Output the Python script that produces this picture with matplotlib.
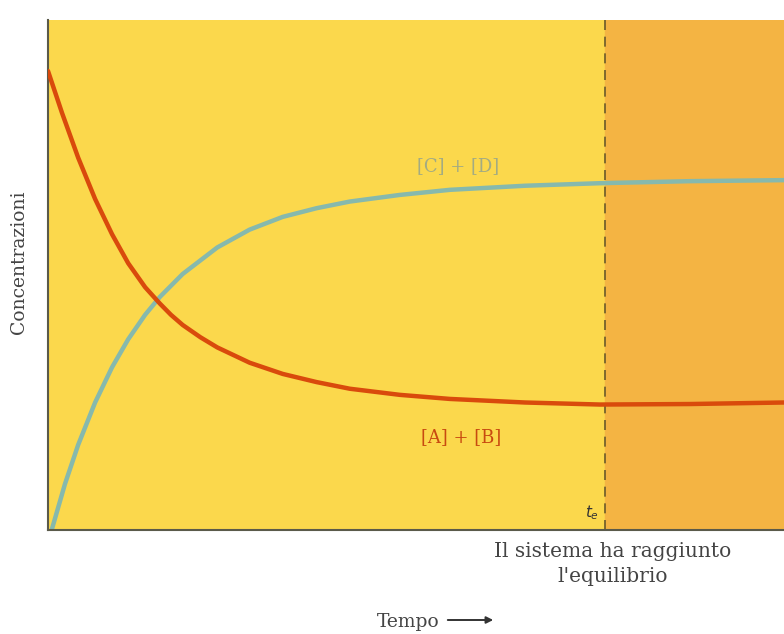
import matplotlib
matplotlib.use("Agg")
import matplotlib.pyplot as plt

# Data (time in 0..100, concentration in 0..100)
time_ab = [0, 1.9, 4.1, 6.4, 8.7, 10.9, 13.2, 15.2, 16.7, 18.3, 20.7, 23.0, 27.4, 31.9, 36.5,
           41.0, 47.8, 54.6, 64.8, 75.0, 87.2, 100]
conc_ab = [90.0, 81.8, 73.0, 64.9, 58.0, 52.3, 47.6, 44.4, 42.2, 40.2, 37.8, 35.8, 32.8, 30.6,
           29.0, 27.7, 26.5, 25.7, 25.0, 24.6, 24.7, 25.0]

time_cd = [0.5, 2.3, 4.1, 6.4, 8.7, 10.9, 13.2, 15.2, 18.3, 23.0, 27.4, 31.9, 36.5, 41.0,
           47.8, 54.6, 64.8, 75.0, 87.2, 100]
conc_cd = [0, 9.0, 16.7, 25.0, 31.9, 37.4, 42.2, 45.7, 50.2, 55.4, 58.9, 61.4, 63.1, 64.4,
           65.7, 66.7, 67.5, 68.0, 68.4, 68.6]

t_eq = 75.7

fig = plt.figure(figsize=(7.84, 6.34), dpi=100)
ax = fig.add_axes([48 / 784, 104 / 634, 1 - 48 / 784, 510 / 634])
ax.set_xlim(0, 100)
ax.set_ylim(0, 100)

ax.axvspan(0, t_eq, color="#fbd84c", zorder=0)
ax.axvspan(t_eq, 100, color="#f4b443", zorder=0)
ax.axvline(t_eq, color="#6b5a2a", lw=1.2, ls=(0, (6, 4)), zorder=1)

ax.plot(time_ab, conc_ab, color="#d94a0c", lw=3.2, solid_capstyle="round",
        solid_joinstyle="round", zorder=3)
ax.plot(time_cd, conc_cd, color="#86b9ad", lw=3.2, solid_capstyle="round",
        solid_joinstyle="round", zorder=2)

ax.text(55.7, 71.3, "[C] + [D]", color="#a3ab82", fontsize=13, family="DejaVu Serif",
        ha="center", va="center")
ax.text(56.1, 18.2, "[A] + [B]", color="#c84a10", fontsize=13, family="DejaVu Serif",
        ha="center", va="center")
ax.text(t_eq - 0.8, 1.5, "$t_e$", color="#333333", fontsize=11,
        ha="right", va="bottom")

for s in ["top", "right"]:
    ax.spines[s].set_visible(False)
ax.spines["left"].set_color("#5a5a4a")
ax.spines["bottom"].set_color("#5a5a4a")
ax.spines["left"].set_linewidth(1.5)
ax.spines["bottom"].set_linewidth(1.5)
ax.set_xticks([])
ax.set_yticks([])

fig.text(613 / 784, 1 - 564 / 634, "Il sistema ha raggiunto\nl'equilibrio", ha="center", va="center",
         fontsize=14.5, family="DejaVu Serif", color="#444444", linespacing=1.45)
fig.text(408 / 784, 1 - 622 / 634, "Tempo", ha="center", va="center",
         fontsize=13.5, family="DejaVu Serif", color="#444444")
ax.annotate("", xy=(496 / 784, 1 - 620 / 634), xytext=(445 / 784, 1 - 620 / 634),
            xycoords="figure fraction", textcoords="figure fraction",
            arrowprops=dict(arrowstyle="-|>", color="#333333", lw=1.4))
fig.text(19 / 784, 1 - 262 / 634, "Concentrazioni", ha="center", va="center", rotation=90,
         fontsize=13.5, family="DejaVu Serif", color="#444444")

fig.savefig("out.png", dpi=100)
